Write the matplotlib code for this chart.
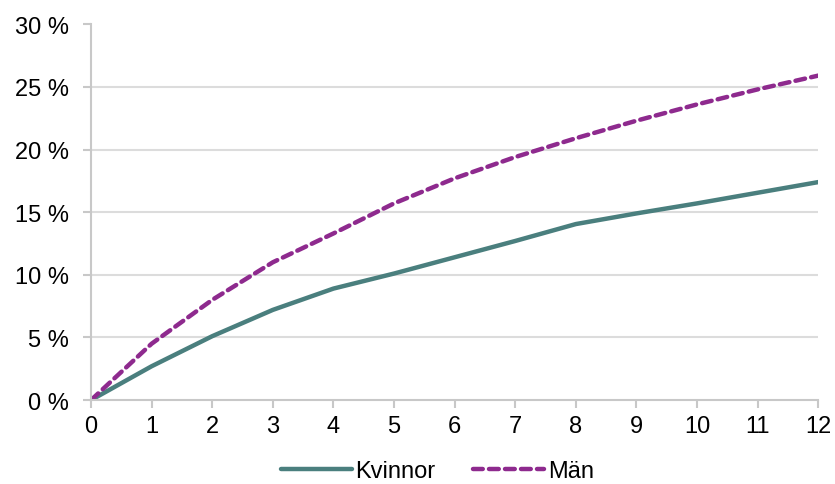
import numpy as np
import matplotlib.pyplot as plt
from matplotlib.ticker import FuncFormatter

plt.rcParams['font.family'] = ['Liberation Sans', 'DejaVu Sans']

# data
years = [0, 1, 2, 3, 4, 5, 6, 7, 8, 9, 10, 11, 12]
kvinnor = [0, 2.7, 5.1, 7.2, 8.9, 10.1, 11.4, 12.7, 14.05, 14.9, 15.7, 16.55, 17.4]
man = [0, 4.5, 8.0, 11.0, 13.3, 15.7, 17.7, 19.4, 20.9, 22.3, 23.6, 24.8, 25.9]

fig = plt.figure(figsize=(8.35, 4.85), dpi=100)
ax = fig.add_axes([0.109, 0.173, 0.871, 0.775])

ax.plot(years, kvinnor, color='#4A7F7E', lw=3.2, solid_capstyle='round', label='Kvinnor')
ax.plot(years, man, color='#8E2A8E', lw=3.2, ls=(0, (2.2, 1.4)), dash_capstyle='round', label='Män')

ax.set_xlim(0, 12)
ax.set_ylim(0, 30)
ax.set_xticks(years)
ax.set_yticks(np.arange(0, 31, 5))
ax.yaxis.set_major_formatter(FuncFormatter(lambda v, p: '%d %%' % v))

for v in range(5, 30, 5):
    ax.axhline(v, color='#DCDCDC', lw=1.5, zorder=0)

for s in ['top', 'right']:
    ax.spines[s].set_visible(False)
for s in ['left', 'bottom']:
    ax.spines[s].set_color('#C8C8C8')
    ax.spines[s].set_linewidth(1.5)
ax.tick_params(axis='both', colors='#C8C8C8', width=1.5, length=6, labelcolor='black', labelsize=17)
ax.tick_params(axis='y', pad=10)
ax.tick_params(axis='x', pad=5)

leg = fig.legend(loc='lower center', ncol=2, frameon=False, fontsize=17,
                 bbox_to_anchor=(0.524, -0.04), handlelength=3.0, columnspacing=1.6,
                 handletextpad=0.15)

fig.savefig('out.png', dpi=100)
